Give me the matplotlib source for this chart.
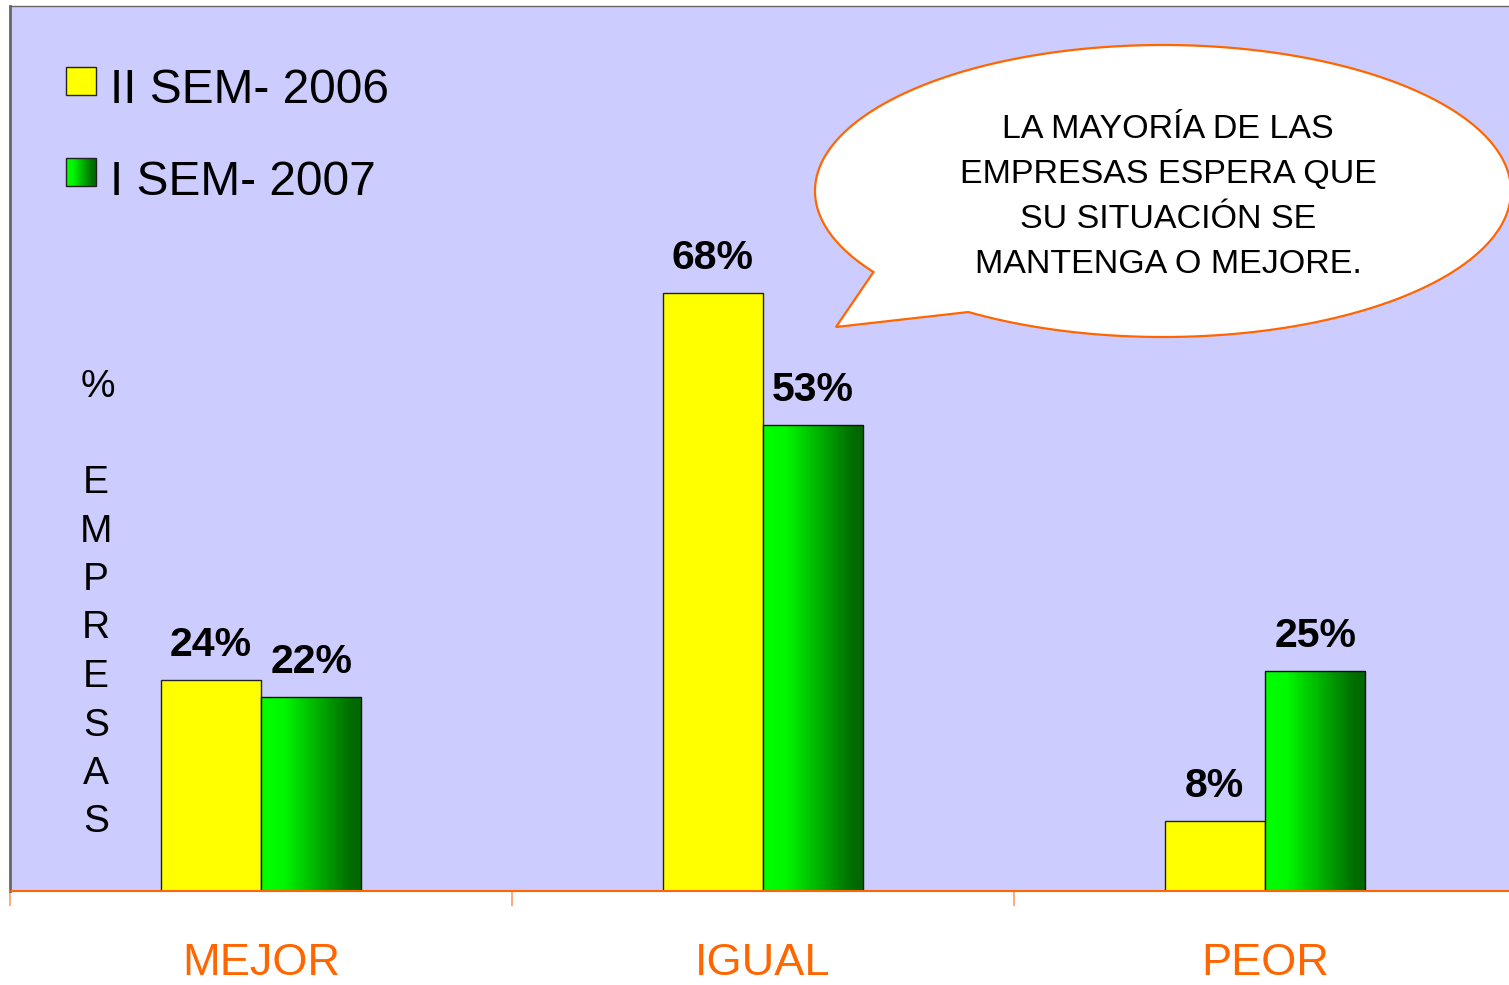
import numpy as np
import matplotlib
matplotlib.use("Agg")
import matplotlib.pyplot as plt
from matplotlib.patches import Rectangle, PathPatch
from matplotlib.path import Path
from matplotlib.colors import LinearSegmentedColormap
import matplotlib.transforms as mtransforms

# ---------------- data ----------------
categories = ["MEJOR", "IGUAL", "PEOR"]
series_names = ["II SEM- 2006", "I SEM- 2007"]
values_2006 = [24, 68, 8]
values_2007 = [22, 53, 25]
y_label_chars = ["E", "M", "P", "R", "E", "S", "A", "S"]
bubble_lines = ["LA MAYORÍA DE LAS", "EMPRESAS ESPERA QUE",
                "SU SITUACIÓN SE", "MANTENGA O MEJORE."]

# ---------------- style ----------------
W, H = 1509, 985
FONT = "Liberation Sans"
BG = "#CCCCFF"
YELLOW = "#FFFF00"
ORANGE = "#FF6600"
green_cmap = LinearSegmentedColormap.from_list(
    "g", [(0.0, "#00FF00"), (0.22, "#00F800"), (0.88, "#006E00"), (1.0, "#006600")])

plt.rcParams["font.family"] = [FONT, "DejaVu Sans"]

fig = plt.figure(figsize=(W / 100, H / 100), dpi=100)
fig.patch.set_facecolor("white")

def fx(x):
    return x / W

def fy(y):
    return 1 - y / H

ax = fig.add_axes([fx(10), fy(891), fx(1516) - fx(10), fy(6) - fy(891)])
ax.set_facecolor(BG)
ax.set_xlim(-0.5, 2.5)
ax.set_ylim(0, 100.6)

x = np.arange(len(categories))
bw = 0.2
b1 = ax.bar(x - bw / 2, values_2006, width=bw, color=YELLOW,
            edgecolor="#222222", linewidth=1.0, zorder=3)
b2 = ax.bar(x + bw / 2, values_2007, width=bw, color="none",
            edgecolor="#111111", linewidth=1.0, zorder=4)

grad = np.linspace(0, 1, 256).reshape(1, -1)
for r in b2:
    x0, y0 = r.get_x(), r.get_y()
    w, h = r.get_width(), r.get_height()
    im = ax.imshow(grad, cmap=green_cmap, extent=[x0, x0 + w, y0, y0 + h],
                   aspect="auto", zorder=3, interpolation="bilinear")
    im.set_clip_path(r)
ax.set_xlim(-0.5, 2.5)
ax.set_ylim(0, 100.6)

# value labels
for rects, vals in ((b1, values_2006), (b2, values_2007)):
    for r, v in zip(rects, vals):
        ax.annotate(f"{v}%", (r.get_x() + r.get_width() / 2, r.get_height()),
                    xytext=(0, 17.3), textcoords="offset points",
                    ha="center", va="baseline", fontsize=29.5,
                    fontweight="bold", color="black", zorder=6)

# spines & ticks
for s in ("left", "top"):
    ax.spines[s].set_color("#666666")
ax.spines["left"].set_linewidth(2)
ax.spines["top"].set_linewidth(1)
ax.spines["right"].set_visible(False)
ax.spines["bottom"].set_color(ORANGE)
ax.spines["bottom"].set_linewidth(1.5)
ax.spines["bottom"].set_zorder(5)
ax.set_yticks([])
ax.set_xticks(np.arange(-0.5, len(categories), 1.0))
ax.set_xticklabels([])
ax.tick_params(axis="x", direction="out", length=10.8, width=1.2,
               color="#FF9966")

# category labels
trans = mtransforms.blended_transform_factory(ax.transData, fig.transFigure)
for xi, cat in zip(x, categories):
    ax.text(xi, fy(975), cat, transform=trans, ha="center", va="baseline",
            fontsize=32.5, color=ORANGE)

# y label (stacked letters)
fig.text(fx(98), fy(397), "%", ha="center", va="baseline", fontsize=28)
for i, ch in enumerate(y_label_chars):
    fig.text(fx(96), fy(493 + i * 48.5), ch, ha="center", va="baseline",
             fontsize=28)

# legend
leg_rows = [(series_names[0], 67, 95, 103, "yellow"),
            (series_names[1], 158, 186, 195, "green")]
for name, top, bot, base, kind in leg_rows:
    sq = Rectangle((fx(66), fy(bot)), fx(96) - fx(66), fy(top) - fy(bot),
                   transform=fig.transFigure, facecolor=YELLOW if kind == "yellow" else "none",
                   edgecolor="#222222", linewidth=1.0, zorder=10)
    fig.patches.append(sq)
    if kind == "green":
        gax = fig.add_axes([fx(66), fy(bot), fx(96) - fx(66), fy(top) - fy(bot)])
        gax.imshow(grad, cmap=green_cmap, aspect="auto", interpolation="bilinear")
        gax.set_axis_off()
        gax.set_zorder(9)
    fig.text(fx(110), fy(base), name, ha="left", va="baseline", fontsize=34.5,
             zorder=11)

# speech bubble
cx, cy, a, b = 1163, 191, 348, 146
tA = np.deg2rad(146.3)
tB = np.deg2rad(124.0) + 2 * np.pi
ts = np.linspace(tA, tB, 400)
px = cx + a * np.cos(ts)
py = cy + b * np.sin(ts)
verts = [(fx(u), fy(v)) for u, v in zip(px, py)]
verts.append((fx(836), fy(327)))
verts.append(verts[0])
codes = [Path.MOVETO] + [Path.LINETO] * (len(verts) - 2) + [Path.CLOSEPOLY]
bubble = PathPatch(Path(verts, codes), transform=fig.transFigure,
                   facecolor="white", edgecolor=ORANGE, linewidth=1.6,
                   zorder=20, clip_on=False)
fig.patches.append(bubble)
for i, line in enumerate(bubble_lines):
    fig.text(fx(1168), fy(138 + i * 45), line, ha="center", va="baseline",
             fontsize=24.5, zorder=21)

fig.savefig("out.png", dpi=100, facecolor="white")
